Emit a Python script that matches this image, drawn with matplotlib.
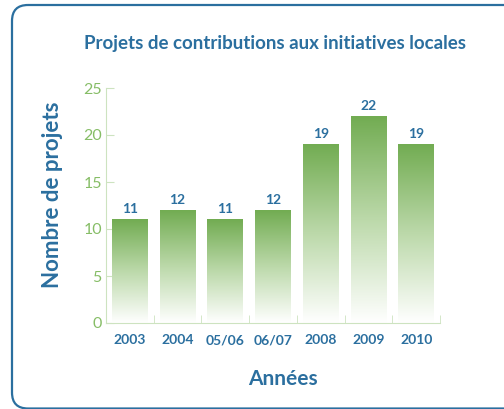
import matplotlib.pyplot as plt
import numpy as np
from matplotlib.colors import LinearSegmentedColormap
from matplotlib.patches import FancyBboxPatch

years = ['2003', '2004', '05/06', '06/07', '2008', '2009', '2010']
projets = [11, 12, 11, 12, 19, 22, 19]

blue = '#2b6f9f'
green_txt = '#86bd66'
axis_col = '#cde3c0'
cmap = LinearSegmentedColormap.from_list('g', ['#ffffff', '#bcd9aa', '#72ac52'])

plt.rcParams['font.family'] = ['Lato', 'DejaVu Sans']

fig = plt.figure(figsize=(5.04, 4.09), dpi=100)

# rounded frame drawn in pixel coords
bg = fig.add_axes([0, 0, 1, 1], zorder=-1)
bg.set_xlim(0, 504)
bg.set_ylim(409, 0)
bg.axis('off')
bg.add_patch(FancyBboxPatch((12, 5), 520, 403.5, boxstyle='round,pad=0,rounding_size=16',
                            fill=False, edgecolor=blue, linewidth=1.6))

ax = fig.add_axes([106 / 504, 1 - 323 / 409, 334 / 504, 235 / 409])
x = np.arange(len(years))
width = 0.75
grad = np.linspace(0, 1, 256).reshape(-1, 1)
for xi, v in zip(x, projets):
    ax.imshow(grad, extent=[xi - width / 2, xi + width / 2, 0, v], origin='lower',
              cmap=cmap, aspect='auto', zorder=2)
    ax.text(xi, v + 0.45, str(v), ha='center', va='bottom', color=blue,
            fontsize=10, fontweight='bold')

ax.set_xlim(-0.5, len(years) - 0.5)
ax.set_ylim(0, 25)
ax.set_yticks([0, 5, 10, 15, 20, 25])
ax.set_xticks(x)
ax.set_xticklabels(years, color=blue, fontsize=10, fontweight='bold')
ax.set_xticks(np.arange(len(years) + 1) - 0.5, minor=True)
ax.tick_params(axis='x', which='major', length=0, pad=8)
ax.tick_params(axis='x', which='minor', length=6, color=axis_col, direction='in')
ax.tick_params(axis='y', length=6, color=axis_col, direction='in',
               labelcolor=green_txt, labelsize=11.5, pad=3)

for s in ['top', 'right']:
    ax.spines[s].set_visible(False)
ax.spines['bottom'].set_color(axis_col)
ax.spines['left'].set_color(axis_col)

fig.text(53 / 504, 1 - 195 / 409, 'Nombre de projets', rotation=90, ha='center', va='center',
         color=blue, fontsize=16, fontweight='bold')
fig.text(283 / 504, 1 - 379 / 409, 'Années', ha='center', va='center',
         color=blue, fontsize=15, fontweight='bold')
fig.text(275 / 504, 1 - 44 / 409, 'Projets de contributions aux initiatives locales',
         ha='center', va='center', color=blue, fontsize=13.5, fontweight='bold')

fig.savefig('out.png', dpi=100)
